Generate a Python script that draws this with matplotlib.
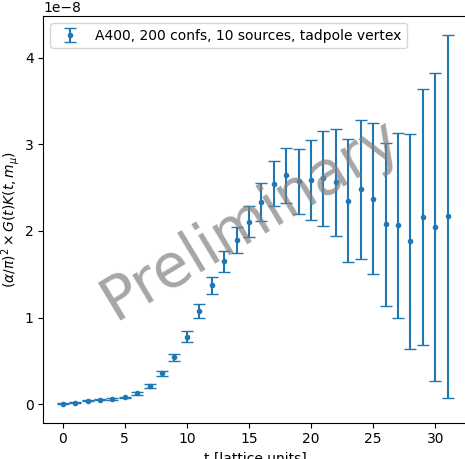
#!/usr/bin/env python
import matplotlib
matplotlib.use("Agg")
import matplotlib.pyplot as plt

# t in lattice units, values in units of 1e-8
t = list(range(32))
vals = [0.004, 0.015, 0.038, 0.05, 0.058, 0.077, 0.123, 0.21, 0.357, 0.54,
        0.78, 1.075, 1.371, 1.651, 1.897, 2.108, 2.331, 2.546, 2.642, 2.573,
        2.588, 2.611, 2.561, 2.35, 2.48, 2.373, 2.077, 2.066, 1.88, 2.158,
        2.05, 2.17]
errs = [0.006, 0.008, 0.008, 0.008, 0.009, 0.01, 0.013, 0.02, 0.03, 0.04,
        0.061, 0.085, 0.1, 0.12, 0.15, 0.18, 0.22, 0.26, 0.32, 0.38,
        0.46, 0.55, 0.62, 0.71, 0.8, 0.87, 0.945, 1.07, 1.24, 1.48,
        1.78, 2.1]

y = [v*1e-8 for v in vals]
yerr = [e*1e-8 for e in errs]

fig, ax = plt.subplots(figsize=(4.65, 4.59), dpi=100)
fig.subplots_adjust(left=0.0935, right=1.004, bottom=0.079, top=0.965)
ax.errorbar(t, y, yerr=yerr, fmt='.', capsize=4,
            label="A400, 200 confs, 10 sources, tadpole vertex")
ax.set_xlabel("t [lattice units]")
ax.set_ylabel(r"$(\alpha/\pi)^2 \times G(t)K(t, m_\mu)$")
ax.yaxis.set_label_coords(-0.05, 0.5)
ax.legend(loc="upper left")
# znak wodny
ax.text(0.49, 0.5, "Preliminary", transform=ax.transAxes, fontsize=43,
        color="gray", alpha=0.7, rotation=31, ha="center", va="center")
fig.savefig("out.png", dpi=100)
